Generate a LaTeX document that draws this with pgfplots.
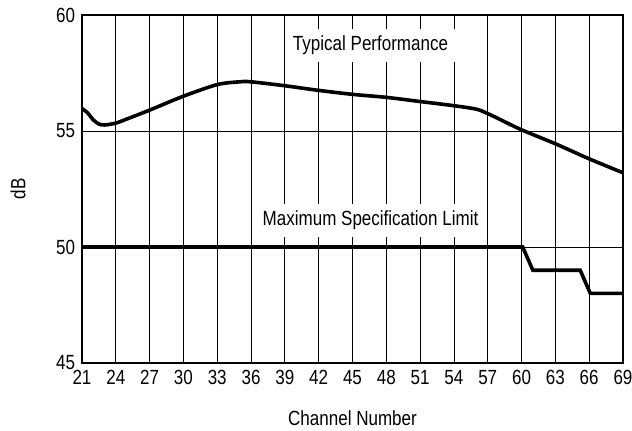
\documentclass[border=0pt]{standalone}
\usepackage{fontspec}
\setmainfont{Liberation Sans}[FakeStretch=0.83]
\usepackage{pgfplots}
\pgfplotsset{compat=1.18}

\begin{document}
\fontsize{20.5bp}{24bp}\selectfont
\begin{tikzpicture}
\begin{axis}[
    at={(0,0)}, anchor=south west,
    scale only axis,
    width=541bp, height=348bp,
    xmin=21, xmax=69, ymin=45, ymax=60,
    xtick={21,24,...,69},
    ytick={45,50,55,60},
    major tick length=0pt,
    xmajorgrids, ymajorgrids,
    grid style={black, line width=0.8bp},
    axis line style={line width=1.4bp},
    /pgf/number format/assume math mode=true,
    ticklabel style={font=\fontsize{20.5bp}{24bp}\selectfont},
    label style={font=\fontsize{20.5bp}{24bp}\selectfont},
    xlabel={Channel Number},
    ylabel={dB},
    x label style={at={(axis description cs:0.5,-0.158)}, anchor=center},
    y label style={at={(axis description cs:-0.118,0.5)}, anchor=center},
]
% typical performance
\addplot[black, line width=3.6bp, smooth, tension=0.5] coordinates {
(21,55.97) (21.5,55.78) (22,55.48) (22.5,55.3) (23,55.26) (24,55.34)
(25,55.52) (27,55.9) (30,56.5) (33,57.0) (35,57.12) (36,57.12)
(39,56.95) (42,56.75) (45,56.58) (48,56.45) (51,56.27)
(54,56.09) (56,55.94) (57,55.75) (58,55.52) (60,55.05) (63,54.45) (66,53.8) (69,53.2)
};
% maximum specification limit
\addplot[black, line width=3.6bp] coordinates {
(21,50) (60.1,50) (61,49) (65.2,49) (66.1,48) (69,48)
};
\node[fill=white, inner xsep=8bp, inner ysep=7bp] at (axis cs:46.6,58.7) {Typical Performance};
\node[fill=white, inner xsep=8bp, inner ysep=7bp] at (axis cs:46.6,51.15) {Maximum Specification Limit};
\end{axis}
\pgfresetboundingbox
\path[use as bounding box] (-82bp,-68bp) rectangle (550bp,363bp);
\end{tikzpicture}
\end{document}
